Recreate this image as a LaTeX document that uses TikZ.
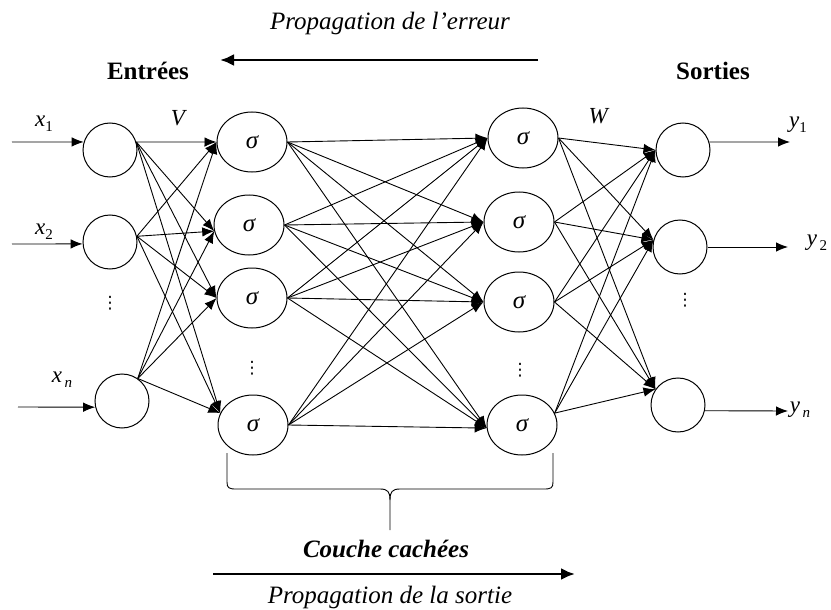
\documentclass[tikz,border=0pt]{standalone}
\usepackage{fontspec}
\setmainfont{Liberation Serif}
\newfontfamily\djv{DejaVu Sans}
\usetikzlibrary{arrows.meta,shapes.geometric}
\newcommand\nlab[2]{\textit{#1}\raisebox{-0.45ex}{\fontsize{15}{15}\selectfont #2}}
\begin{document}
\begin{tikzpicture}[x=1pt,y=-1pt,
  neuron/.style={circle,draw,line width=1pt,minimum size=54pt,inner sep=0pt},
  hid/.style={ellipse,draw,line width=1pt,minimum width=70pt,minimum height=60pt,inner sep=0pt,font=\fontsize{25}{25}\selectfont\itshape},
  conn/.style={line width=0.9pt,-{Latex[length=12pt,width=9.5pt]}},
  bigarr/.style={line width=2.8pt,-{Latex[length=14pt,width=12pt]}},
  lab/.style={font=\fontsize{23}{23}\selectfont},
  ttl/.style={font=\fontsize{25}{25}\selectfont\bfseries},
  itl/.style={font=\fontsize{25}{25}\selectfont\itshape},
  dts/.style={font=\fontsize{17}{17}\selectfont\djv,inner sep=0pt}]
\useasboundingbox (0,0) rectangle (831,610);
% input layer
\node[neuron] (I1) at (110,150) {};
\node[neuron] (I2) at (110,242) {};
\node[neuron] (In) at (122,401) {};
\node[dts] (dI) at (110,303) {⋮};
% hidden layer 1
\node[hid] (H1) at (252,142) {σ};
\node[hid] (H2) at (249,225) {σ};
\node[hid] (H3) at (252,298) {σ};
\node[hid] (H4) at (253,425) {σ};
\node[dts] (dH) at (252,368) {⋮};
% hidden layer 2
\node[hid] (G1) at (523,138) {σ};
\node[hid] (G2) at (519,222) {σ};
\node[hid] (G3) at (519,302) {σ};
\node[hid] (G4) at (522,425) {σ};
\node[dts] (dG) at (520,370) {⋮};
% output layer
\node[neuron] (O1) at (683,150) {};
\node[neuron] (O2) at (680,247) {};
\node[neuron] (On) at (678,405) {};
\node[dts] (dO) at (685,300) {⋮};
% connections
\foreach \s/\sa in {I1/17,I2/12,In/55}
  \foreach \t/\ta in {H1/180,H2/190,H3/180,H4/160}
    \draw[conn] (\s.\sa) -- (\t.\ta);
\foreach \s in {H1,H2,H3,H4}
  \foreach \t/\ta in {G1/180,G2/180,G3/180,G4/185}
    \draw[conn] (\s.east) -- (\t.\ta);
\foreach \s/\sa in {G1/0,G2/0,G3/0,G4/20}
  \foreach \t/\ta in {O1/180,O2/165,On/145}
    \draw[conn] (\s.\sa) -- (\t.\ta);
% inputs and outputs
\coordinate (a1) at (12,142);
\coordinate (a2) at (12,244);
\coordinate (an) at (18,407);
\coordinate (b1) at (790,142);
\coordinate (b2) at (788,247);
\coordinate (bn) at (788,411);
\draw[conn] (a1) -- (I1.163);
\draw[conn] (a2) -- (I2.184);
\draw[conn] (an) -- (In.193);
\draw[conn] (O1.17) -- (b1);
\draw[conn] (O2.east) -- (b2);
\draw[conn] (On.-12) -- (bn);
% labels
\node[lab] (lx1) at (44,124) {\nlab{x}{1}};
\node[lab] (lx2) at (44,232) {\nlab{x}{2}};
\node[lab] (lxn) at (62,380) {\nlab{x}{\,\textit{n}}};
\node[lab] (lV) at (179,118) {\textit{V}};
\node[lab] (lW) at (599,116) {\textit{W}};
\node[lab] (ly1) at (798,125) {\nlab{y}{1}};
\node[lab] (ly2) at (817,243) {\nlab{y}{\,2}};
\node[lab] (lyn) at (800,410) {\nlab{y}{\,\textit{n}}};
% titles
\node[itl] (pe) at (390,23) {Propagation de l’erreur};
\coordinate (pe1) at (538,60);
\coordinate (pe2) at (220,60);
\draw[bigarr] (pe1) -- (pe2);
\node[ttl] (ent) at (148,71) {Entrées};
\node[ttl] (sor) at (713,71) {Sorties};
% brace
\draw[line width=0.9pt] (227,453) -- (227,482) .. controls (227,488) and (229,489) .. (236,489) -- (380,489) .. controls (388,489) and (390,492) .. (390,500) -- (390,530);
\draw[line width=0.9pt] (553,453) -- (553,482) .. controls (553,488) and (551,489) .. (544,489) -- (400,489) .. controls (392,489) and (390,492) .. (390,500);
\node[font=\fontsize{25}{25}\selectfont\bfseries\itshape] (cc) at (386,549) {Couche cachées};
\coordinate (ps1) at (213,574);
\coordinate (ps2) at (575,574);
\draw[bigarr] (ps1) -- (ps2);
\node[itl] (ps) at (390,597) {Propagation de la sortie};
\end{tikzpicture}
\end{document}
